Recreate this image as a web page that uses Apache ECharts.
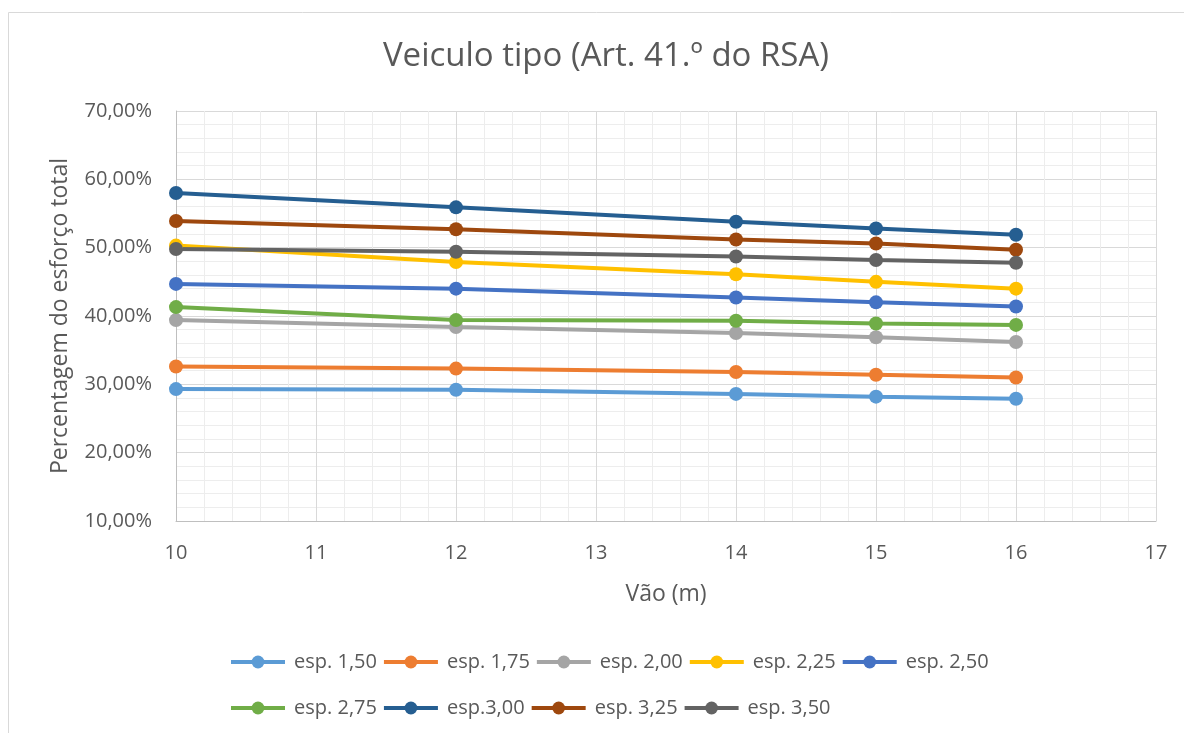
<!DOCTYPE html>
<html><head><meta charset="utf-8">
<script src="https://cdn.jsdelivr.net/npm/echarts@6/dist/echarts.min.js"></script>
<style>html,body{margin:0;padding:0;background:#fff}#c{width:1184px;height:733px}</style>
</head><body><div id="c"></div>
<script>
const spans = [10, 12, 14, 15, 16];
const seriesNames = ['esp. 1,50','esp. 1,75','esp. 2,00','esp. 2,25','esp. 2,50','esp. 2,75','esp.3,00','esp. 3,25','esp. 3,50'];
const esp150 = [29.3, 29.2, 28.6, 28.2, 27.9];
const esp175 = [32.6, 32.3, 31.8, 31.4, 31.0];
const esp200 = [39.4, 38.4, 37.5, 36.9, 36.2];
const esp225 = [50.3, 47.9, 46.1, 45.0, 44.0];
const esp250 = [44.7, 44.0, 42.7, 42.0, 41.4];
const esp275 = [41.3, 39.4, 39.3, 38.9, 38.7];
const esp300 = [58.0, 55.9, 53.8, 52.8, 51.9];
const esp325 = [53.9, 52.7, 51.2, 50.6, 49.7];
const esp350 = [49.8, 49.4, 48.7, 48.2, 47.8];
const yTicks = ['10,00%','20,00%','30,00%','40,00%','50,00%','60,00%','70,00%'];
const seriesData = [esp150, esp175, esp200, esp225, esp250, esp275, esp300, esp325, esp350];
const colors = ['#5B9BD5','#ED7D31','#A5A5A5','#FFC000','#4472C4','#70AD47','#255E91','#9E480E','#636363'];

const FONT = "'Open Sans', sans-serif";
const TXT = '#595959';
const chart = echarts.init(document.getElementById('c'), null, {renderer: 'canvas'});

const legendBase = (top, data) => ({
  left: 229, top: top, orient: 'horizontal', padding: 0,
  itemWidth: 54, itemHeight: 16, itemGap: 5,
  data: data,
  lineStyle: {width: 4},
  textStyle: {color: TXT, fontFamily: FONT, fontSize: 20, width: 84, padding: [0, 0, 0, 4], overflow: 'none'}
});

chart.setOption({
  animation: false,
  color: colors,
  textStyle: {fontFamily: FONT},
  title: {
    text: 'Veiculo tipo (Art. 41.º do RSA)',
    left: 601, top: 35, textAlign: 'center',
    textStyle: {color: TXT, fontFamily: FONT, fontSize: 33, fontWeight: 'normal'}
  },
  graphic: [{
    type: 'rect', silent: true,
    shape: {x: 8.5, y: 12.5, width: 1200, height: 800},
    style: {fill: 'none', stroke: '#d9d9d9', lineWidth: 1}
  }],
  legend: [legendBase(652, seriesNames.slice(0, 5)), legendBase(698, seriesNames.slice(5))],
  grid: {left: 176, right: 28, top: 111, bottom: 212, containLabel: false},
  xAxis: {
    type: 'value', min: 10, max: 17, interval: 1,
    name: 'Vão (m)', nameLocation: 'middle', nameGap: 62,
    nameTextStyle: {color: TXT, fontFamily: FONT, fontSize: 23},
    axisLine: {show: true, lineStyle: {color: '#bfbfbf', width: 1}},
    axisTick: {show: false},
    axisLabel: {color: TXT, fontFamily: FONT, fontSize: 20, margin: 22},
    splitLine: {show: true, lineStyle: {color: '#d9d9d9', width: 1}},
    minorTick: {show: false, splitNumber: 5},
    minorSplitLine: {show: true, lineStyle: {color: '#ededed', width: 1}}
  },
  yAxis: {
    type: 'value', min: 10, max: 70, interval: 10,
    name: 'Percentagem do esforço total', nameLocation: 'middle', nameGap: 104,
    nameTextStyle: {color: TXT, fontFamily: FONT, fontSize: 23},
    axisLine: {show: true, lineStyle: {color: '#bfbfbf', width: 1}},
    axisTick: {show: false},
    axisLabel: {color: TXT, fontFamily: FONT, fontSize: 20, margin: 24,
      formatter: v => yTicks[Math.round((v - 10) / 10)]},
    splitLine: {show: true, lineStyle: {color: '#d9d9d9', width: 1}},
    minorTick: {show: false, splitNumber: 5},
    minorSplitLine: {show: true, lineStyle: {color: '#ededed', width: 1}}
  },
  series: seriesNames.map((n, i) => ({
    name: n, type: 'line',
    data: spans.map((x, j) => [x, seriesData[i][j]]),
    symbol: 'circle', symbolSize: 14, showSymbol: true,
    lineStyle: {width: 4, color: colors[i]},
    itemStyle: {color: colors[i]},
    emphasis: {disabled: true}
  }))
});
</script></body></html>
